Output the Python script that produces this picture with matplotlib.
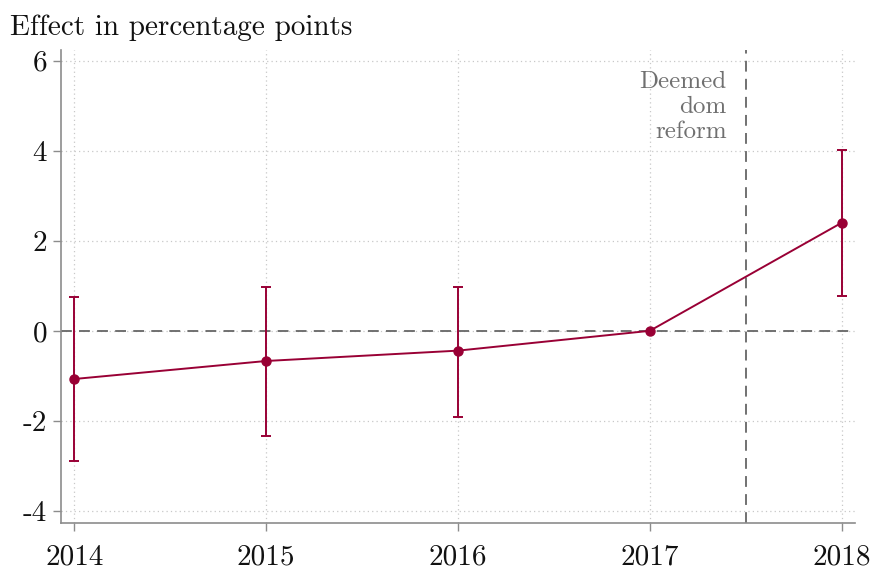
import matplotlib
matplotlib.use("Agg")
import matplotlib.pyplot as plt

plt.rcParams['font.family'] = ['cmr10', 'DejaVu Serif']
plt.rcParams['axes.unicode_minus'] = False
plt.rcParams['mathtext.fontset'] = 'cm'

years = [2014, 2015, 2016, 2017, 2018]
effect = [-1.07, -0.67, -0.44, 0.0, 2.40]
ci_low = [-2.89, -2.33, -1.91, 0.0, 0.78]
ci_high = [0.75, 0.98, 0.98, 0.0, 4.02]
yticks = [-4, -2, 0, 2, 4, 6]
ytick_labels = ['-4', '-2', '0', '2', '4', '6']
reform_x = 2017.5

color = '#990035'
grey = '#707070'

fig = plt.figure(figsize=(8.74, 5.74), dpi=100)
ax = fig.add_axes([61/874, 1 - 523/574, (855-61)/874, (523-50)/574])

ax.set_xlim(2013.93, 2018.07)
ax.set_ylim(-4.27, 6.24)

ax.set_xticks(years)
ax.set_xticklabels([str(y) for y in years])
ax.set_yticks(yticks)
ax.set_yticklabels(ytick_labels)

ax.grid(True, linestyle=(0, (1, 2.5)), color='#c8c8c8', linewidth=0.9)
ax.set_axisbelow(True)

for s in ['top', 'right']:
    ax.spines[s].set_visible(False)
for s in ['left', 'bottom']:
    ax.spines[s].set_color('#8c8c8c')
    ax.spines[s].set_linewidth(1.2)

ax.tick_params(axis='both', colors='#8c8c8c', length=6, width=1.0, labelsize=21,
               labelcolor='#111111')
ax.tick_params(axis='x', pad=9)
ax.tick_params(axis='y', pad=4)

ax.axhline(0, color='#666666', linestyle=(0, (6, 4)), linewidth=1.3, zorder=1)
ax.axvline(reform_x, color='#666666', linestyle=(0, (6, 4)), linewidth=1.3, zorder=1)

yerr_lo = [e - l for e, l in zip(effect, ci_low)]
yerr_hi = [h - e for e, h in zip(effect, ci_high)]
mask = [i for i in range(len(years)) if ci_low[i] != ci_high[i]]
ax.errorbar([years[i] for i in mask], [effect[i] for i in mask],
            yerr=[[yerr_lo[i] for i in mask], [yerr_hi[i] for i in mask]],
            fmt='none', ecolor=color, elinewidth=1.4, capsize=3.5, capthick=1.4, zorder=3)
ax.plot(years, effect, color=color, linewidth=1.4, marker='o', markersize=6.5, zorder=4)

ax.text(2017.4, 5.78, 'Deemed\ndom\nreform', ha='right', va='top', color=grey,
        fontsize=18, linespacing=1.17)

fig.text(10/874, 1 - 28/574, 'Effect in percentage points', ha='left', va='center',
         fontsize=21, color='#111111')

fig.savefig('out.png', dpi=100)
